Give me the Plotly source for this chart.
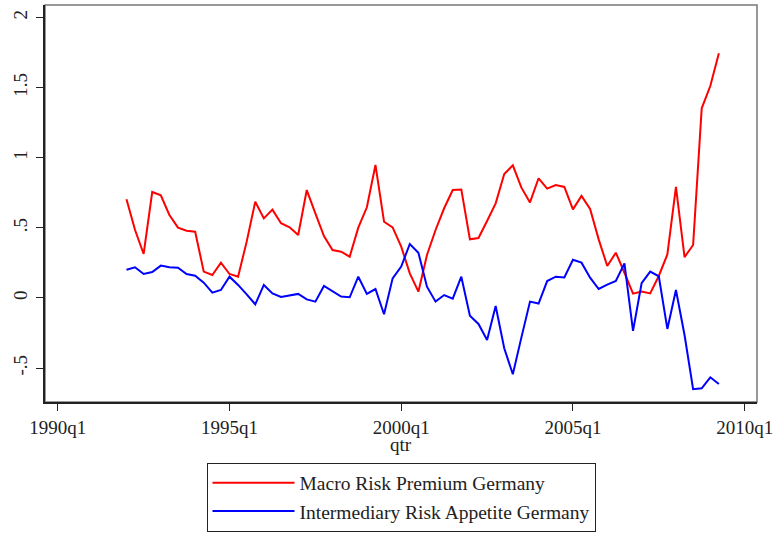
import plotly.graph_objects as go

# quarterly dates, Stata %tq style (1960q1 = 0)
start_year = 1992
n_obs = 70
qtr_labels = ["%dq%d" % (start_year + i // 4, i % 4 + 1) for i in range(n_obs)]

macro_risk = [0.704, 0.485, 0.314, 0.756, 0.732, 0.592, 0.502, 0.480, 0.473, 0.188,
              0.164, 0.252, 0.171, 0.152, 0.402, 0.687, 0.568, 0.630, 0.533, 0.504,
              0.449, 0.770, 0.604, 0.442, 0.342, 0.330, 0.295, 0.502, 0.647, 0.949,
              0.544, 0.504, 0.366, 0.176, 0.045, 0.307, 0.485, 0.640, 0.770, 0.773,
              0.419, 0.428, 0.549, 0.675, 0.884, 0.946, 0.787, 0.682, 0.854, 0.780,
              0.806, 0.792, 0.632, 0.728, 0.635, 0.418, 0.228, 0.323, 0.180, 0.031,
              0.046, 0.033, 0.157, 0.311, 0.792, 0.292, 0.378, 1.353, 1.512, 1.745]

intermediary_risk = [0.202, 0.219, 0.171, 0.185, 0.231, 0.219, 0.216, 0.171, 0.159, 0.109,
                     0.038, 0.057, 0.152, 0.093, 0.026, -0.045, 0.093, 0.033, 0.007, 0.017,
                     0.029, -0.010, -0.026, 0.086, 0.045, 0.010, 0.005, 0.152, 0.029, 0.064,
                     -0.116, 0.140, 0.224, 0.385, 0.323, 0.081, -0.026, 0.021, -0.005, 0.152,
                     -0.126, -0.185, -0.300, -0.057, -0.359, -0.544, -0.281, -0.026, -0.040, 0.121,
                     0.152, 0.147, 0.273, 0.252, 0.145, 0.064, 0.095, 0.121, 0.247, -0.235,
                     0.105, 0.188, 0.155, -0.221, 0.057, -0.264, -0.651, -0.644, -0.566, -0.613]

tick_labels = ["1990q1", "1995q1", "2000q1", "2005q1", "2010q1"]
y_ticks = [-0.5, 0, 0.5, 1, 1.5, 2]
y_tick_text = ["-.5", "0", ".5", "1", "1.5", "2"]


def to_tq(lbl):
    y, q = lbl.split("q")
    return (int(y) - 1960) * 4 + int(q) - 1


qtr = [to_tq(s) for s in qtr_labels]
tick_vals = [to_tq(s) for s in tick_labels]

font = "Liberation Serif, Times New Roman, serif"

fig = go.Figure()
fig.add_trace(go.Scatter(x=qtr, y=macro_risk, mode="lines", name="Macro Risk Premium Germany",
                         line=dict(color="#ff0000", width=2)))
fig.add_trace(go.Scatter(x=qtr, y=intermediary_risk, mode="lines",
                         name="Intermediary Risk Appetite Germany",
                         line=dict(color="#0000ff", width=2)))

fig.update_layout(
    width=778, height=533,
    margin=dict(l=44.5, r=21.3, t=5, b=131, autoexpand=False),
    paper_bgcolor="white", plot_bgcolor="white",
    font=dict(family=font, size=19, color="#222222"),
    showlegend=True,
    legend=dict(x=0.5, y=-0.3262, xanchor="center", yanchor="bottom",
                bordercolor="#222222", borderwidth=1, bgcolor="white",
                font=dict(family=font, size=19.5, color="#222222"),
                itemwidth=82, tracegroupgap=0),
    shapes=[dict(type="rect", xref="paper", yref="paper", x0=0, x1=1, y0=0, y1=1,
                 line=dict(color="#777777", width=1.5), layer="below")],
    # x-axis title placed by hand (Stata puts it tight under the labels)
    annotations=[dict(text="qtr", xref="paper", yref="paper", x=0.5, y=-0.108,
                      xanchor="center", yanchor="middle", showarrow=False,
                      font=dict(family=font, size=19, color="#222222"))],
)

fig.update_xaxes(range=[118.51, 201.44], tickvals=tick_vals, ticktext=tick_labels,
                 showgrid=False, zeroline=False, showline=True, linecolor="#222222",
                 linewidth=1.5, ticks="outside", ticklen=7, tickcolor="#222222",
                 automargin=False)
fig.update_yaxes(range=[-0.742, 2.09], tickvals=y_ticks, ticktext=y_tick_text,
                 tickangle=-90, showgrid=False, zeroline=False, showline=True,
                 linecolor="#222222", linewidth=1.5, ticks="outside", ticklen=7,
                 tickcolor="#222222", automargin=False, ticklabelstandoff=2)

# drop the browser's default page margin so the figure sits at the corner
fig.write_html("out.html", config={"displayModeBar": False},
               post_script="document.body.style.margin='0';")
